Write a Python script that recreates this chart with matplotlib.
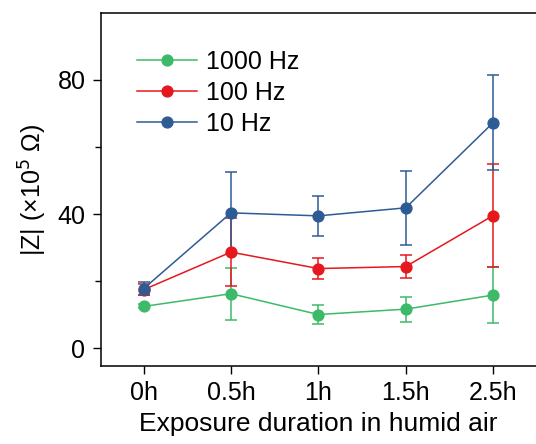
import numpy as np
import matplotlib.pyplot as plt
import matplotlib.transforms as mtransforms

plt.rcParams['font.family'] = ['Liberation Sans', 'DejaVu Sans']

labels = ['0h', '0.5h', '1h', '1.5h', '2.5h']
z1000 = [12.5, 16.3, 10.1, 11.7, 15.9]
e1000 = [0.6, 7.8, 2.8, 3.7, 8.3]
z100 = [17.5, 28.7, 23.8, 24.4, 39.6]
e100 = [1.7, 10.2, 3.2, 3.3, 15.4]
z10 = [17.8, 40.4, 39.5, 41.9, 67.3]
e10 = [2.0, 12.3, 6.0, 11.1, 14.2]

series = [('1000 Hz', z1000, e1000, '#3cba6a'),
          ('100 Hz', z100, e100, '#e5181d'),
          ('10 Hz', z10, e10, '#2d5c94')]

fig = plt.figure(figsize=(5.36, 4.44), dpi=100)
ax = fig.add_axes([0.188, 0.176, 0.812, 0.795])
x = np.arange(len(labels))

# small offset for the shiny spot on the markers
shine = ax.transData + mtransforms.ScaledTranslation(-1.2 / 72, 1.2 / 72, fig.dpi_scale_trans)

handles = []
for name, y, e, col in series:
    eb = ax.errorbar(x, y, yerr=e, color=col, lw=1.1, elinewidth=1.1, capsize=4, capthick=1.1,
                     marker='o', ms=7.8, mfc=col, mec=col, label=name)
    ax.plot(x, y, 'o', ms=2.8, color='white', alpha=0.55, mec='none', transform=shine)
    handles.append(eb[0])

ax.set_xlim(-0.49, 4.49)
ax.set_ylim(-5.2, 100)
ax.set_xticks(x)
ax.set_xticklabels(labels)
ax.set_yticks([0, 40, 80])
ax.set_yticks([20, 60], minor=True)
ax.tick_params(axis='both', which='major', direction='out', length=6, width=1, labelsize=18, pad=5)
ax.tick_params(axis='y', which='minor', direction='out', length=4, width=1)
ax.spines['right'].set_visible(False)
for s in ['left', 'bottom', 'top']:
    ax.spines[s].set_linewidth(1.1)

ax.set_xlabel('Exposure duration in humid air', fontsize=19, labelpad=5)
ax.set_ylabel('|Z| (×10$^5$ Ω)', fontsize=18, labelpad=6)

ax.legend(handles, [s[0] for s in series], loc='upper left', frameon=False, fontsize=18,
          handlelength=2.4, handletextpad=0.35, labelspacing=0.28, borderaxespad=0,
          borderpad=0, bbox_to_anchor=(0.083, 0.895))

fig.savefig('out.png', dpi=100)
